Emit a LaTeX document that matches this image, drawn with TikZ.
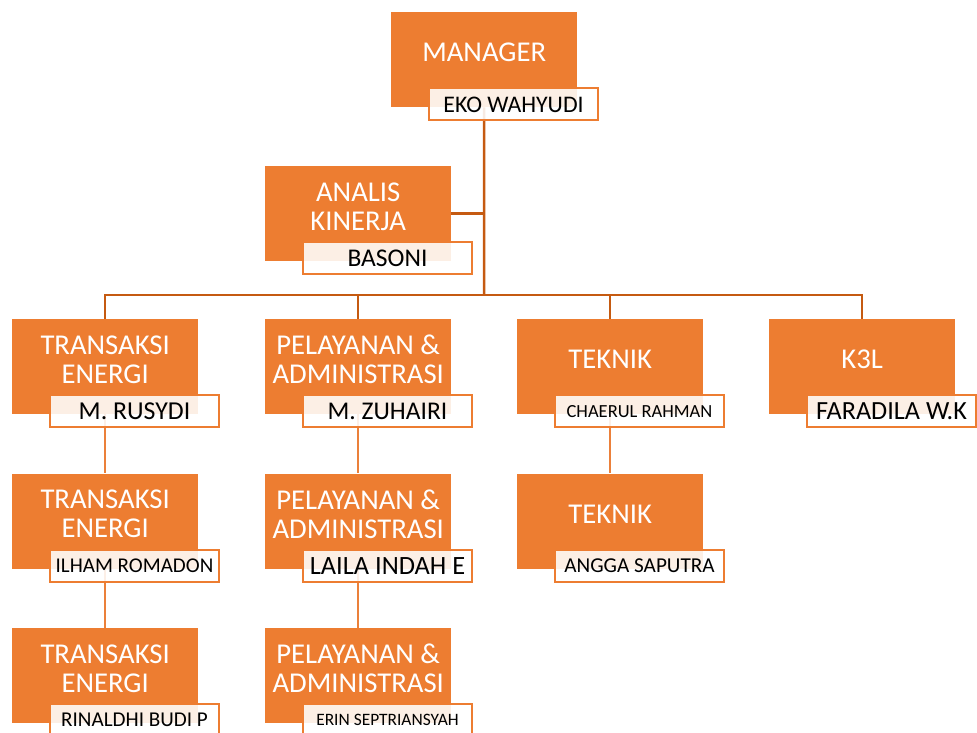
\documentclass[tikz,border=0pt]{standalone}
\usepackage{fontspec}
\setmainfont{Carlito}
\usepackage{tikz}
\usetikzlibrary{positioning, backgrounds}
\definecolor{unitCol}{RGB}{237, 125, 49}
\definecolor{busCol}{RGB}{197, 90, 17}
\definecolor{linkCol}{RGB}{235, 128, 58}
\tikzset{myUnitBox/.style={fill=unitCol, draw=none, minimum width=186, minimum height=95, inner sep=0pt, anchor=north west}}
\tikzset{myUnitText/.style={text=white, align=center, inner sep=0pt, font=\fontsize{28.7}{29}\selectfont}}
\tikzset{myNameBox/.style={draw=unitCol, line width=2pt, fill=white, fill opacity=0.88, text opacity=1, text=black, minimum width=169, minimum height=32, inner sep=0pt, anchor=north west}}
\tikzset{myBusLine/.style={line width=2.5pt, color=busCol}}
\tikzset{myLinkLine/.style={line width=2.5pt, color=linkCol}}
\newcommand{\nameSize}[1]{\fontsize{#1}{#1}\selectfont}

\begin{document}
\begin{tikzpicture}[x=1pt,y=-1pt]
	\useasboundingbox (0,0) rectangle (977,732);
	\clip (0,0) rectangle (977,732);
	%\draw[help lines, step=50](0,0) grid(977,732);

	% manager and staff
	\node[myUnitBox] (man) at (391,12) {};
	\node[myUnitText] (manT) at ([yshift=-40.5pt]man.north) {MANAGER};
	\node[myNameBox, font=\nameSize{23.8}] (manN) at ([xshift=37pt,yshift=20pt]man.south west) {EKO WAHYUDI};

	\node[myUnitBox] (ana) at (265,166) {};
	\node[myUnitText] (anaT) at ([yshift=-40.5pt]ana.north) {ANALIS\\KINERJA};
	\node[myNameBox, font=\nameSize{25.5}] (anaN) at ([xshift=37pt,yshift=20pt]ana.south west) {BASONI};

	% first row
	\node[myUnitBox] (te1) at (12,319) {};
	\node[myUnitText] (te1T) at ([yshift=-40.5pt]te1.north) {TRANSAKSI\\ENERGI};
	\node[myNameBox, font=\nameSize{25.8}] (te1N) at ([xshift=37pt,yshift=20pt]te1.south west) {M. RUSYDI};

	\node[myUnitBox] (pa1) at (265,319) {};
	\node[myUnitText] (pa1T) at ([yshift=-40.5pt]pa1.north) {PELAYANAN \&\\ADMINISTRASI};
	\node[myNameBox, font=\nameSize{25.5}] (pa1N) at ([xshift=37pt,yshift=20pt]pa1.south west) {M. ZUHAIRI};

	\node[myUnitBox] (tk1) at (517,319) {};
	\node[myUnitText] (tk1T) at ([yshift=-40.5pt]tk1.north) {TEKNIK};
	\node[myNameBox, font=\nameSize{18.5}] (tk1N) at ([xshift=37pt,yshift=20pt]tk1.south west) {CHAERUL RAHMAN};

	\node[myUnitBox] (k3l) at (769,319) {};
	\node[myUnitText] (k3lT) at ([yshift=-40.5pt]k3l.north) {K3L};
	\node[myNameBox, font=\nameSize{26.2}] (k3lN) at ([xshift=37pt,yshift=20pt]k3l.south west) {FARADILA W.K};

	% second row
	\node[myUnitBox, below=59pt of te1] (te2) {};
	\node[myUnitText] (te2T) at ([yshift=-40.5pt]te2.north) {TRANSAKSI\\ENERGI};
	\node[myNameBox, font=\nameSize{21}] (te2N) at ([xshift=37pt,yshift=20pt]te2.south west) {ILHAM ROMADON};

	\node[myUnitBox, below=59pt of pa1] (pa2) {};
	\node[myUnitText] (pa2T) at ([yshift=-40.5pt]pa2.north) {PELAYANAN \&\\ADMINISTRASI};
	\node[myNameBox, font=\nameSize{26.4}] (pa2N) at ([xshift=37pt,yshift=20pt]pa2.south west) {LAILA INDAH E};

	\node[myUnitBox, below=59pt of tk1] (tk2) {};
	\node[myUnitText] (tk2T) at ([yshift=-40.5pt]tk2.north) {TEKNIK};
	\node[myNameBox, font=\nameSize{21.2}] (tk2N) at ([xshift=37pt,yshift=20pt]tk2.south west) {ANGGA SAPUTRA};

	% third row
	\node[myUnitBox, below=59pt of te2] (te3) {};
	\node[myUnitText] (te3T) at ([yshift=-40.5pt]te3.north) {TRANSAKSI\\ENERGI};
	\node[myNameBox, font=\nameSize{21.1}] (te3N) at ([xshift=37pt,yshift=20pt]te3.south west) {RINALDHI BUDI P};

	\node[myUnitBox, below=59pt of pa2] (pa3) {};
	\node[myUnitText] (pa3T) at ([yshift=-40.5pt]pa3.north) {PELAYANAN \&\\ADMINISTRASI};
	\node[myNameBox, font=\nameSize{17.4}] (pa3N) at ([xshift=37pt,yshift=20pt]pa3.south west) {ERIN SEPTRIANSYAH};

	\begin{scope}[on background layer]
		\coordinate (busMid) at (484,295);
		\draw[myBusLine] (man.south) -- (busMid);
		\draw[myBusLine] (ana.east) -- (ana.east -| busMid);
		\draw[myBusLine] (te1.north) |- (busMid) -| (k3l.north);
		\draw[myBusLine] (pa1.north) -- (pa1.north |- busMid);
		\draw[myBusLine] (tk1.north) -- (tk1.north |- busMid);

		\draw[myLinkLine] (te1.south) -- (te2.north);
		\draw[myLinkLine] (te2.south) -- (te3.north);
		\draw[myLinkLine] (pa1.south) -- (pa2.north);
		\draw[myLinkLine] (pa2.south) -- (pa3.north);
		\draw[myLinkLine] (tk1.south) -- (tk2.north);
	\end{scope}
\end{tikzpicture}
\end{document}
